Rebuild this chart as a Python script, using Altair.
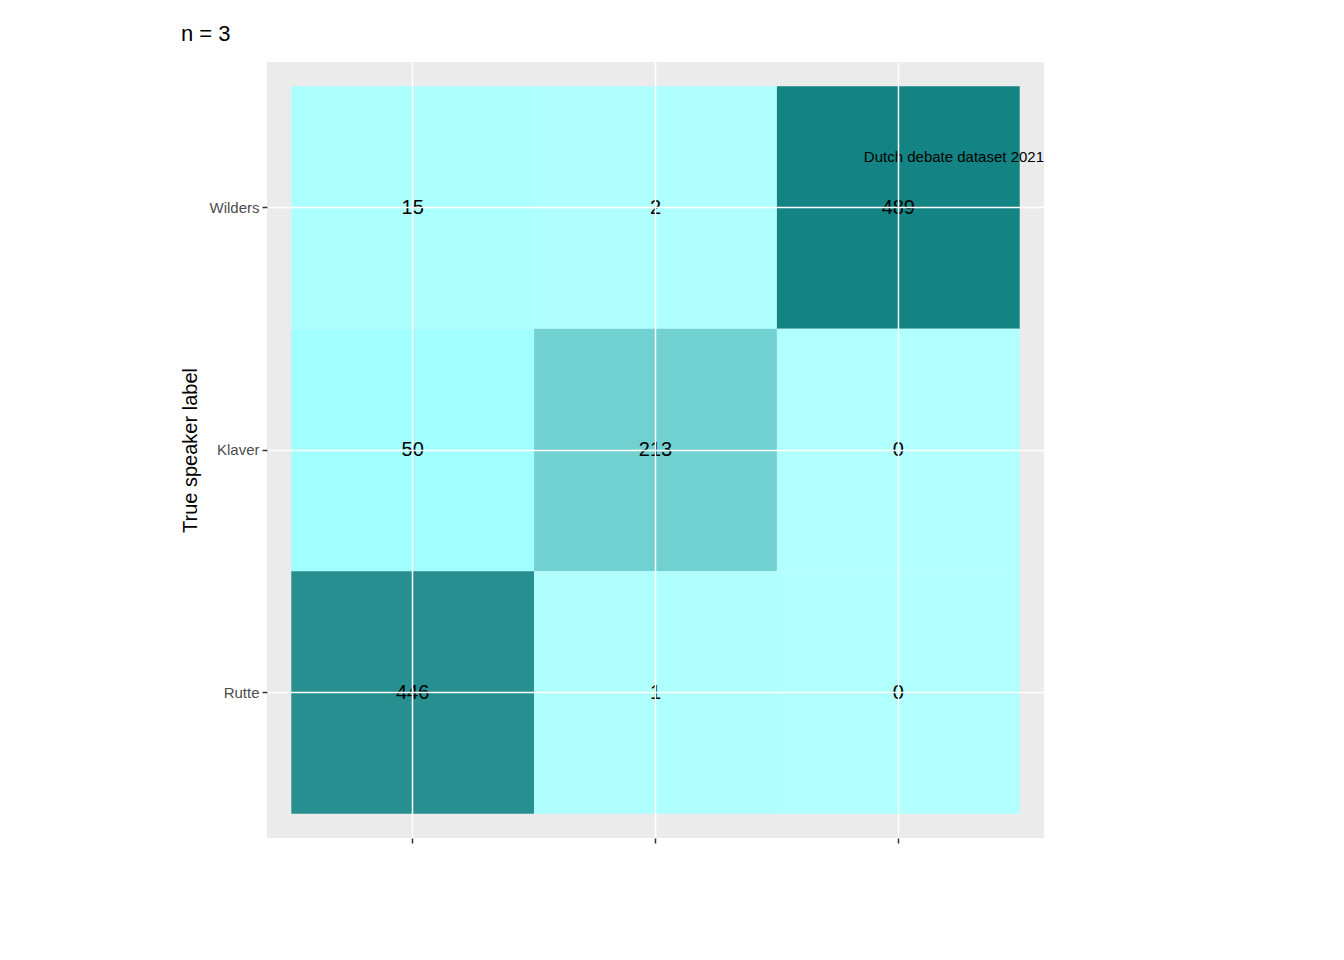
import altair as alt
import pandas as pd

# confusion matrix values
speakers = ["Rutte", "Klaver", "Wilders"]
true_labels = ["Wilders", "Wilders", "Wilders",
               "Klaver", "Klaver", "Klaver",
               "Rutte", "Rutte", "Rutte"]
pred_labels = ["Rutte", "Klaver", "Wilders"] * 3
frames = [15, 2, 489,
          50, 213, 0,
          446, 1, 0]

df = pd.DataFrame({"true": true_labels, "pred": pred_labels, "frames": frames})

x = alt.X("pred:N", sort=speakers, title="Predicted speaker label",
          scale=alt.Scale(paddingInner=0, paddingOuter=0.1),
          axis=alt.Axis(labelAngle=0, bandPosition=0.5, grid=True))
y = alt.Y("true:N", sort=speakers[::-1], title="True speaker label",
          scale=alt.Scale(paddingInner=0, paddingOuter=0.1),
          axis=alt.Axis(bandPosition=0.5, grid=True))

base = alt.Chart(df).encode(x=x, y=y)

tiles = base.mark_rect().encode(
    color=alt.Color("frames:Q", title="Frames",
                    scale=alt.Scale(domain=[0, 489], range=["#FFFFFF", "#138384"]),
                    legend=alt.Legend(orient="none", legendX=822, legendY=256,
                                      gradientLength=230, gradientThickness=45,
                                      values=[0, 100, 200, 300, 400],
                                      tickCount=5))
)

labels = base.mark_text(fontSize=20, font="Liberation Sans", color="black").encode(
    text="frames:Q")

caption = alt.Chart(pd.DataFrame({"c": ["Dutch debate dataset 2021"]})).mark_text(
    align="right", baseline="middle", fontSize=15, font="Liberation Sans", color="black"
).encode(text="c:N", x=alt.value(777), y=alt.value(95))

chart = alt.layer(tiles, labels).properties(
    width=777, height=776,
    title=alt.TitleParams("n = 3", anchor="start", fontSize=22, fontWeight="normal",
                          font="Liberation Sans", color="black", offset=16),
    padding={"left": 259, "top": 54, "right": 10, "bottom": 10},
    autosize=alt.AutoSizeParams(type="none"),
).configure_view(
    fill="#EBEBEB", stroke=None
).configure_axis(
    gridColor="white", gridWidth=1.5, domain=False,
    labelFont="Liberation Sans", labelFontSize=15, labelColor="#4D4D4D",
    titleFont="Liberation Sans", titleFontSize=20, titleFontWeight="normal",
    titleColor="black", tickColor="#333333", tickSize=5, tickWidth=1.5,
    labelPadding=3
).configure_legend(
    titleFont="Liberation Sans", titleFontSize=20, titleFontWeight="normal",
    titleColor="black", labelFont="Liberation Sans", labelFontSize=15,
    labelColor="black", titlePadding=12
)

# caption placed via layer of its own coordinates
chart = alt.layer(tiles, labels, caption).properties(
    width=777, height=776,
    title=alt.TitleParams("n = 3", anchor="start", fontSize=22, fontWeight="normal",
                          font="Liberation Sans", color="black", offset=16),
    padding={"left": 259, "top": 54, "right": 10, "bottom": 10},
    autosize=alt.AutoSizeParams(type="none"),
).configure_view(
    fill="#EBEBEB", stroke=None
).configure_axis(
    gridColor="white", gridWidth=1.5, domain=False,
    labelFont="Liberation Sans", labelFontSize=15, labelColor="#4D4D4D",
    titleFont="Liberation Sans", titleFontSize=20, titleFontWeight="normal",
    titleColor="black", tickColor="#333333", tickSize=5, tickWidth=1.5,
    labelPadding=3
).configure_axisX(titlePadding=4).configure_axisY(titlePadding=8).configure_legend(
    titleFont="Liberation Sans", titleFontSize=20, titleFontWeight="normal",
    titleColor="black", labelFont="Liberation Sans", labelFontSize=15,
    labelColor="black", titlePadding=12
)

chart.save("out.html", embed_options={"renderer": "svg", "actions": False})
